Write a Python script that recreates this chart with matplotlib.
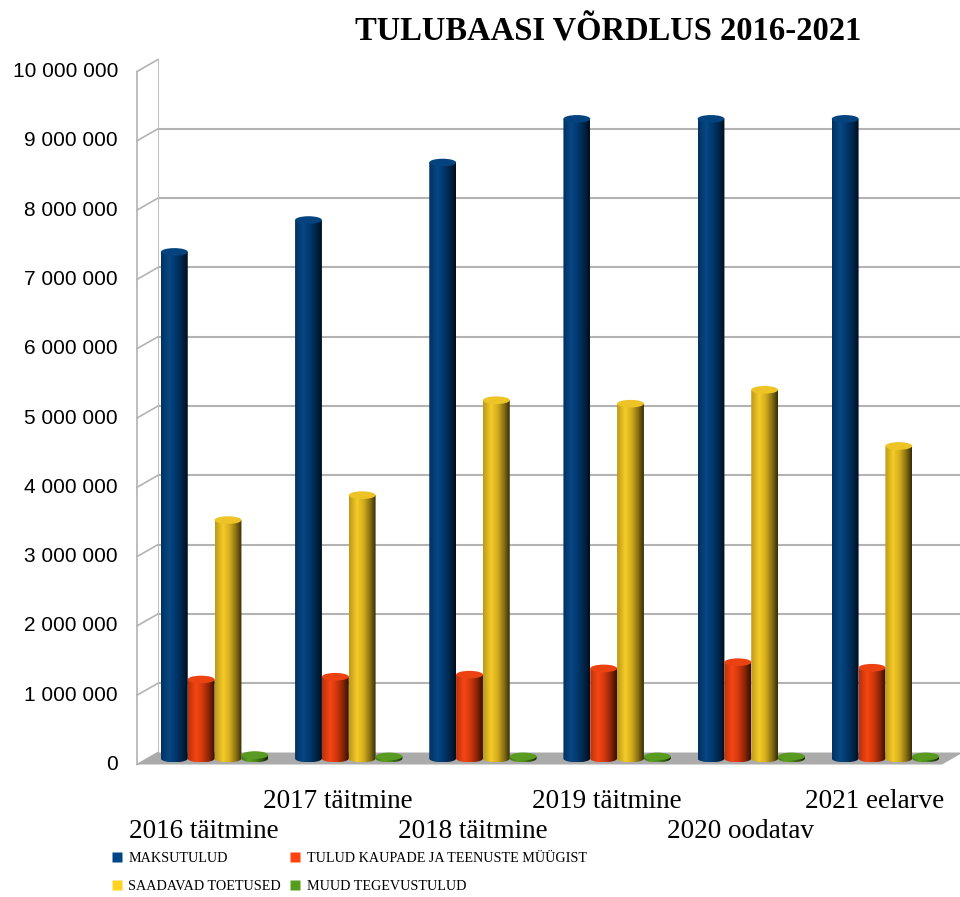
import numpy as np
import matplotlib.pyplot as plt
from matplotlib import transforms as mtransforms
from matplotlib.colors import LinearSegmentedColormap, to_rgb
from matplotlib.lines import Line2D
from matplotlib.patches import Ellipse, PathPatch, Polygon
from matplotlib.path import Path

categories = ["2016 täitmine", "2017 täitmine", "2018 täitmine",
              "2019 täitmine", "2020 oodatav", "2021 eelarve"]
maksutulud = [7310000, 7770000, 8600000, 9230000, 9230000, 9230000]
tulud_kaupade = [1140000, 1180000, 1210000, 1300000, 1390000, 1310000]
saadavad_toetused = [3440000, 3800000, 5170000, 5120000, 5320000, 4510000]
muud_tegevustulud = [50000, 30000, 30000, 30000, 30000, 30000]
series_names = ["MAKSUTULUD", "TULUD KAUPADE JA TEENUSTE MÜÜGIST",
                "SAADAVAD TOETUSED", "MUUD TEGEVUSTULUD"]
y_ticks = list(range(0, 10000001, 1000000))

legend_colors = ["#004586", "#ff420e", "#ffd320", "#579d1c"]
body_colors = ["#003b73", "#dc3a0c", "#ddb51e", "#4f8f1a"]
grid_col = "#b3b3b3"
serif = ["Liberation Serif", "DejaVu Serif"]
sans = ["Liberation Sans", "DejaVu Sans"]

fig = plt.figure(figsize=(9.6, 8.97), dpi=100)
# value axis runs a bit below zero so the cylinder bottoms are not clipped
y_lo = -300000
ax = fig.add_axes([158 / 960, 123.7 / 897, 805 / 960, 713.8 / 897])
ax.axis("off")

# 3D depth: the front edge sits 21 px left and 12 px below the back wall
DX, DY = -21, -12


def shifted(f):
    return ax.transData + mtransforms.ScaledTranslation(DX * f / 100, DY * f / 100, fig.dpi_scale_trans)


mid = shifted(0.5)
front = shifted(1.0)
ident = mtransforms.IdentityTransform()


def pt(x, y, f):
    px, py = ax.transData.transform((x, y))
    return (px + DX * f, py + DY * f)


def shade_cmap(hexcol):
    r = np.array(to_rgb(hexcol))
    stops = [(0.0, r * 0.85), (0.3, np.minimum(r * 1.08 + 0.03, 1)),
             (0.55, r * 0.95), (0.8, r * 0.6), (1.0, r * 0.25)]
    return LinearSegmentedColormap.from_list("shade", [(p, tuple(c)) for p, c in stops])


ax.set_xlim(-0.5, 5.5)
ax.set_ylim(y_lo, 10000000)
x0, x1 = -0.5, 5.5

# back wall grid
ax.hlines(y_ticks[1:-1], x0, x1, color=grid_col, lw=1.5, zorder=1)
ax.vlines(x0, 0, y_ticks[-1], color=grid_col, lw=1.2, zorder=1)
# side wall
ax.vlines(x0, 0, y_ticks[-1], color=grid_col, lw=1.2, transform=front, clip_on=False, zorder=1)
for v in y_ticks:
    (ax_, ay_), (bx_, by_) = pt(x0, v, 0), pt(x0, v, 1)
    ax.add_line(Line2D([ax_, bx_], [ay_, by_], color=grid_col, lw=1.2, transform=ident, clip_on=False, zorder=1))
# floor
ax.add_patch(Polygon([pt(x0, 0, 0), pt(x1, 0, 0), pt(x1, 0, 1), pt(x0, 0, 1)],
                     closed=True, transform=ident, fc="#ababab", ec="none", clip_on=False, zorder=1.5))

# cylinders
E = 55000  # half height of the cylinder ellipse, in value units
t = np.linspace(0, np.pi, 40)
grad = np.linspace(0, 1, 64).reshape(1, -1)
series = [maksutulud, tulud_kaupade, saadavad_toetused, muud_tegevustulud]
w = 0.2
for j, (vals, col) in enumerate(zip(series, body_colors)):
    cmap = shade_cmap(col)
    top_col = tuple(np.minimum(np.array(to_rgb(col)) * 1.05 + 0.02, 1))
    for i, v in enumerate(vals):
        left = i - 0.4 + w * j
        c = left + w / 2
        verts = [(left, v), (left, 0)] + list(zip(c - w / 2 * np.cos(t), -E * np.sin(t))) + [(left + w, v), (left, v)]
        clip = PathPatch(Path(verts, closed=True), transform=mid, fc="none", ec="none")
        ax.add_patch(clip)
        im = ax.imshow(grad, cmap=cmap, extent=(left, left + w, -E, v), aspect="auto",
                       transform=mid, interpolation="bilinear", zorder=3)
        im.set_clip_path(clip)
        ax.add_patch(Ellipse((c, v), w, 2 * E, transform=mid, fc=top_col, ec="none",
                             clip_on=False, zorder=4))

ax.set_xlim(-0.5, 5.5)
ax.set_ylim(y_lo, 10000000)

# y labels on the front edge
for v in y_ticks:
    ax.annotate(f"{v:,}".replace(",", " "), xy=(x0, v), xycoords=front, xytext=(-19, 0),
                textcoords="offset pixels", ha="right", va="center", fontsize=15, family=sans)

# staggered category labels
for i, name in enumerate(categories):
    dy = -37 if i % 2 else -67
    ax.annotate(name, xy=(i, 0), xycoords=front, xytext=(0, dy), textcoords="offset pixels",
                ha="center", va="center", fontsize=19.5, family=serif)

fig.text(608 / 960, 1 - 32 / 897, "TULUBAASI VÕRDLUS 2016-2021", ha="center", va="center",
         fontsize=23.5, weight="bold", family=serif)

order = [0, 2, 1, 3]
handles = [Line2D([], [], ls="none", marker="s", ms=7, mec="none", color=legend_colors[k]) for k in order]
fig.legend(handles, [series_names[k] for k in order], loc="upper left", ncol=2,
           bbox_to_anchor=(110 / 960, 1 - 852 / 897), frameon=False,
           prop={"family": serif, "size": 10.2}, handletextpad=0.3, columnspacing=0.5,
           labelspacing=1.08, handlelength=1.0, borderpad=0, borderaxespad=0)

fig.savefig("out.png", dpi=100)
